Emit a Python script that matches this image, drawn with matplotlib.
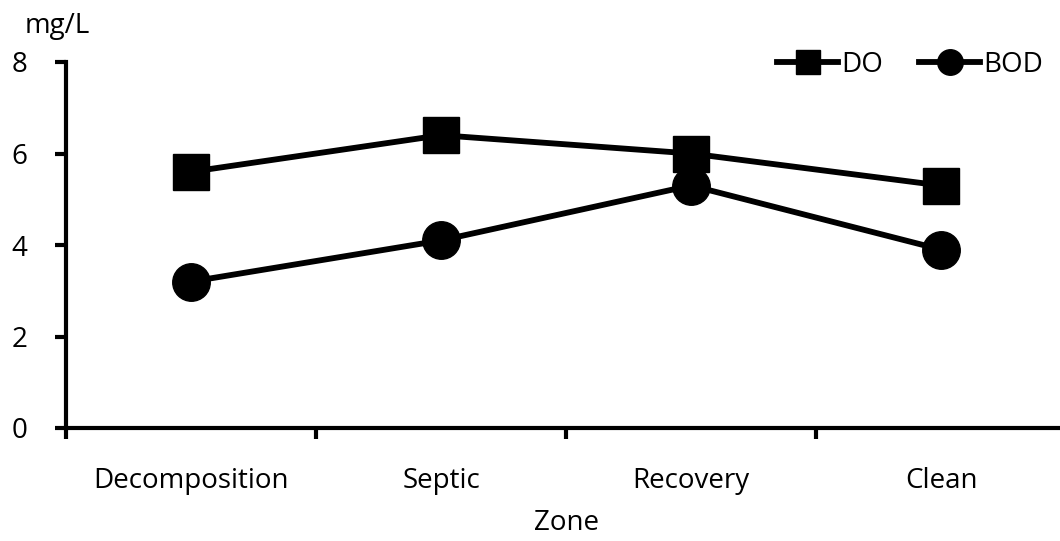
import matplotlib
matplotlib.use("Agg")
import matplotlib.pyplot as plt

categories = ["Decomposition", "Septic", "Recovery", "Clean"]
do_values = [5.6, 6.4, 6.0, 5.3]
bod_values = [3.2, 4.1, 5.3, 3.9]
y_ticks = [0, 2, 4, 6, 8]

plt.rcParams['font.family'] = ['Open Sans', 'DejaVu Sans']
FS = 20

fig = plt.figure(figsize=(10.6, 5.41), dpi=100)
ax = fig.add_axes([66/1060, 113/541, 1000/1060, 366/541])
x = list(range(len(categories)))
ax.plot(x, do_values, color='black', lw=4.2, marker='s', ms=26, label='DO', clip_on=False)
ax.plot(x, bod_values, color='black', lw=4.2, marker='o', ms=27, label='BOD', clip_on=False)

ax.set_xlim(-0.5, 3.5)
ax.set_ylim(0, 8)
ax.set_yticks(y_ticks)
ax.set_xticks([-0.5, 0.5, 1.5, 2.5, 3.5])
ax.set_xticklabels([])
ax.set_xticks(x, minor=True)
ax.set_xticklabels(categories, minor=True)
ax.tick_params(axis='x', which='minor', length=0, pad=28, labelsize=FS)
ax.tick_params(axis='x', which='major', length=8, width=3, direction='out')
ax.tick_params(axis='y', length=8, width=3, direction='out', pad=20, labelsize=FS)
for s in ['top', 'right']:
    ax.spines[s].set_visible(False)
for s in ['left', 'bottom']:
    ax.spines[s].set_linewidth(3)

ax.set_xlabel('Zone', fontsize=FS, labelpad=10)
fig.text(57/1060, 1 - 26/541, 'mg/L', fontsize=FS, ha='center', va='center')

leg = ax.legend(loc='center right', bbox_to_anchor=(1043/1060, 1 - 65/541),
                bbox_transform=fig.transFigure, ncol=2, frameon=False,
                fontsize=FS, markerscale=0.68, handlelength=2.2, handletextpad=0.1,
                columnspacing=1.3, borderpad=0, borderaxespad=0)

fig.savefig('out.png', dpi=100)
